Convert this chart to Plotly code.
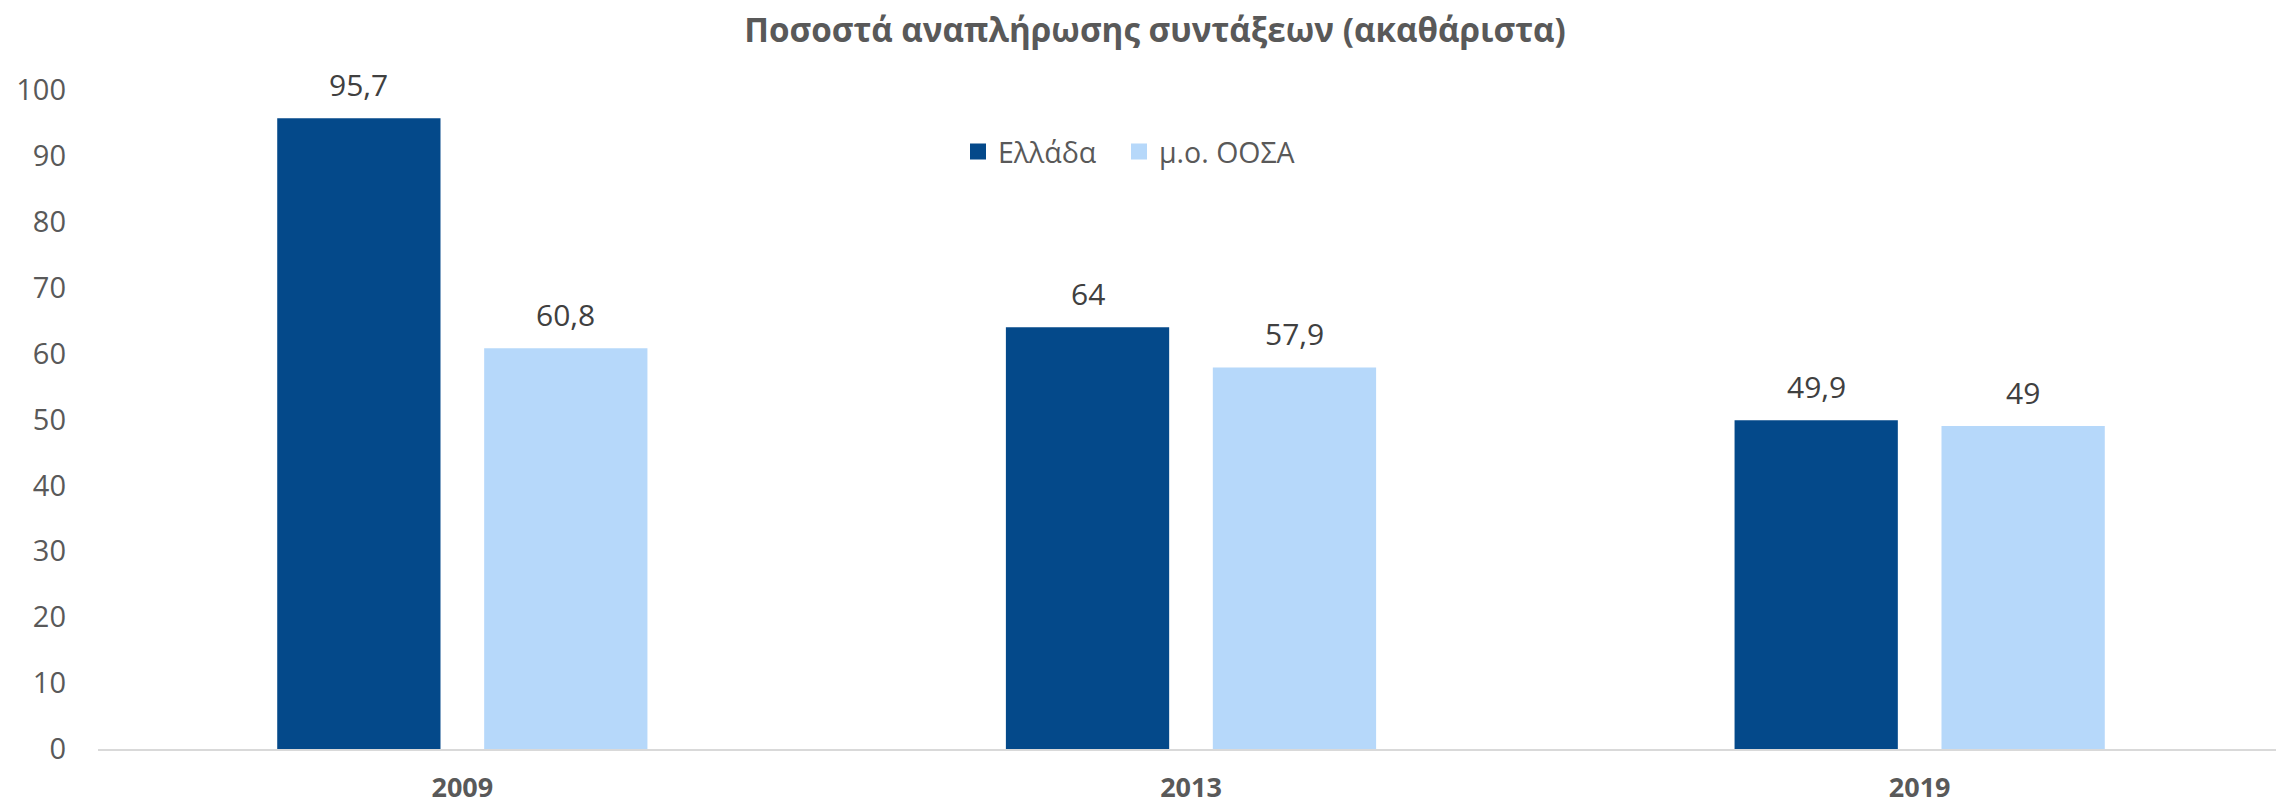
import plotly.graph_objects as go

years = ["2009", "2013", "2019"]
greece = [95.7, 64, 49.9]
oecd = [60.8, 57.9, 49]
series_names = ["Ελλάδα", "μ.ο. ΟΟΣΑ"]
colors = ["#04498A", "#B6D8FA"]
y_ticks = [0, 10, 20, 30, 40, 50, 60, 70, 80, 90, 100]

BARGAP = 0.432
BARGROUPGAP = 0.211
FONT = "Open Sans"
# the page body has an 8px default margin; size the figure so it fills the window
W, H = 2284 - 8, 806 - 8
L, R, T, B = 90, 0, 82, 57

def fmt(v):
    return ("%g" % v).replace(".", ",")

fig = go.Figure()
legend_ids = ["legend", "legend2"]
for name, vals, col, lg in zip(series_names, [greece, oecd], colors, legend_ids):
    fig.add_trace(go.Bar(x=years, y=vals, name=name, marker=dict(color=col, line=dict(width=0)),
                         showlegend=False))
    fig.add_trace(go.Scatter(x=[None], y=[None], mode="markers", name=name,
                             marker=dict(symbol="square", size=19, color=col),
                             showlegend=True, legend=lg))

# data labels above bars
slot = (1 - BARGAP) / 2
for k, vals in enumerate([greece, oecd]):
    off = (k - 0.5) * slot
    for i, v in enumerate(vals):
        fig.add_annotation(x=i + off, y=v, xref="x", yref="y", text=fmt(v),
                           showarrow=False, yanchor="bottom", yshift=11,
                           font=dict(family=FONT, size=30, color="#404040"))

legend_common = dict(orientation="h", xanchor="left",
                     y=(H - B - 144) / (H - B - T), yanchor="middle",
                     font=dict(family=FONT, size=28.5, color="#595959"),
                     bgcolor="rgba(0,0,0,0)", itemwidth=30)

fig.update_layout(
    width=W, height=H,
    paper_bgcolor="white", plot_bgcolor="white",
    margin=dict(l=L, r=R, t=T, b=B, autoexpand=False),
    barmode="group", bargap=BARGAP, bargroupgap=BARGROUPGAP,
    title=dict(text="<b>Ποσοστά αναπλήρωσης συντάξεων (ακαθάριστα)</b>",
               x=(1155 - 8) / W, xanchor="center", y=1 - 22 / H, yanchor="middle",
               font=dict(family=FONT, size=33.2, color="#595959")),
    legend=dict(x=(950 - L) / (W - L - R), **legend_common),
    legend2=dict(x=(1111 - L) / (W - L - R), **legend_common),
    showlegend=True,
)
fig.update_xaxes(
    type="category",
    showline=True, linecolor="#D9D9D9", linewidth=2,
    showgrid=False, ticks="", ticklabelstandoff=14, automargin=False,
    tickfont=dict(family=FONT, size=27, color="#595959", weight="bold"),
)
fig.update_yaxes(
    range=[0, 100], tickvals=y_ticks, showgrid=False, zeroline=False,
    showline=False, ticks="", ticklabelstandoff=31, automargin=False,
    tickfont=dict(family=FONT, size=29, color="#595959"),
)
fig.write_html("out.html")
